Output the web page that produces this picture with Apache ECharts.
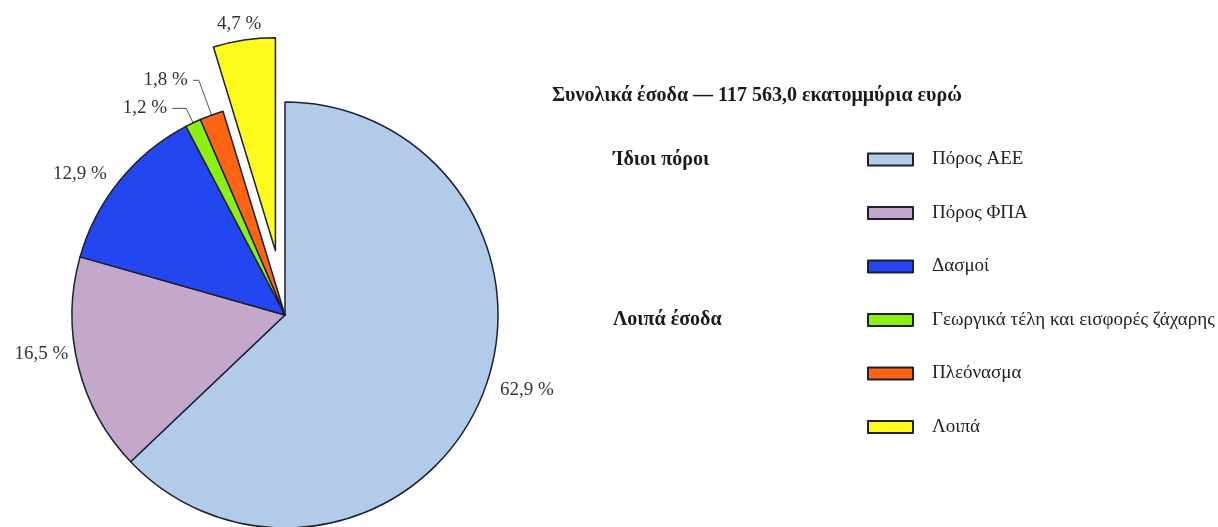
<!DOCTYPE html>
<html>
<head>
<meta charset="utf-8">
<script src="https://cdn.jsdelivr.net/npm/echarts@6/dist/echarts.min.js"></script>
<style>
  html, body { margin: 0; padding: 0; background: #fff; }
  #chart { width: 1218px; height: 527px; }
</style>
</head>
<body>
<div id="chart"></div>
<script>
const names = ["Πόρος ΑΕΕ", "Πόρος ΦΠΑ", "Δασμοί", "Γεωργικά τέλη και εισφορές ζάχαρης", "Πλεόνασμα", "Λοιπά"];
const shares = [62.9, 16.5, 12.9, 1.2, 1.8, 4.7];
const colors = ["#b2cbe8", "#c4a8cc", "#2346f0", "#8cf014", "#ff6414", "#fffa1e"];
const titleText = "Συνολικά έσοδα — 117 563,0 εκατομμύρια ευρώ";
const groupLabels = ["Ίδιοι πόροι", "Λοιπά έσοδα"];

const font = "'Liberation Serif', 'DejaVu Serif', serif";

// label line lengths per slice (first segment, horizontal segment), shown or not
const lineLen = [10, 5, 10, 16, 37, 0];
const lineLen2 = [5, 0, 0, 14, 6, 0];
const lineShow = [false, false, false, true, true, false];

const chart = echarts.init(document.getElementById("chart"));

const boldText = { fontFamily: font, fontSize: 20, fontWeight: "bold", color: "#1a1a1a" };

const option = {
  animation: false,
  title: [
    { text: titleText, left: 547, top: 81, textStyle: boldText },
    { text: groupLabels[0], left: 608, top: 145, textStyle: boldText },
    { text: groupLabels[1], left: 608, top: 305, textStyle: boldText },
  ],
  legend: {
    orient: "vertical",
    left: 862,
    top: 145,
    icon: "rect",
    itemWidth: 45,
    itemHeight: 12,
    itemGap: 34.5,
    selectedMode: false,
    textStyle: { fontFamily: font, fontSize: 19, color: "#222", padding: [0, 0, 0, 14] },
    data: names,
  },
  series: [
    {
      type: "pie",
      center: [285, 315],
      radius: 213,
      startAngle: 90,
      clockwise: true,
      selectedMode: "single",
      selectedOffset: 65,
      avoidLabelOverlap: false,
      emphasis: { disabled: true },
      itemStyle: { borderColor: "#1b2033", borderWidth: 1.5 },
      label: {
        position: "outside",
        fontFamily: font,
        fontSize: 19,
        color: "#333",
        formatter: (p) => String(p.value).replace(".", ",") + " %",
      },
      labelLine: { lineStyle: { color: "#555", width: 1 }, smooth: false },
      labelLayout: (p) => {
        if (p.dataIndex === 5) return { align: "center", dy: -16 };
        if (p.dataIndex === 0 || p.dataIndex === 1) return { dy: -13 };
        return {};
      },
      data: names.map((n, i) => ({
        name: n,
        value: shares[i],
        selected: i === 5,
        itemStyle: { color: colors[i] },
        labelLine: { show: lineShow[i], length: lineLen[i], length2: lineLen2[i] },
      })),
    },
  ],
};

chart.setOption(option);
</script>
</body>
</html>
